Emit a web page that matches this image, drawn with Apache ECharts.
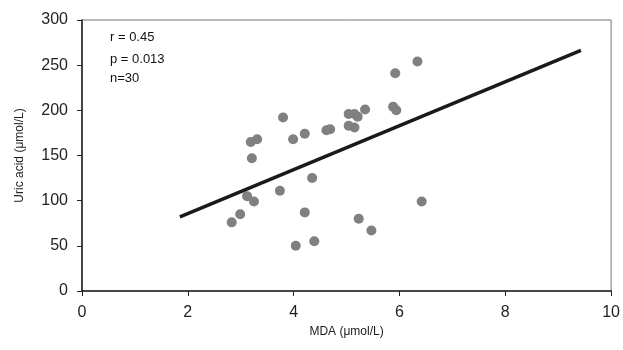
<!DOCTYPE html>
<html><head><meta charset="utf-8">
<script src="https://cdn.jsdelivr.net/npm/echarts@6/dist/echarts.min.js"></script>
<style>html,body{margin:0;padding:0;background:#fff}#c{width:623px;height:350px}</style>
</head><body><div id="c"></div>
<script>
var mdaValues = [3.80,3.19,3.31,3.99,4.21,4.62,4.69,3.21,5.04,5.15,5.21,5.35,5.04,5.15,5.88,5.94,5.92,6.34,3.12,3.25,2.99,2.83,3.74,4.35,4.21,4.04,4.39,5.23,5.47,6.42];
var uricValues = [192,165,168,168,174,178,179,147,196,196,193,201,183,181,204,200,241,254,105,99,85,76,111,125,87,50,55,80,67,99];
var fitX = [1.85, 9.43];
var fitY = [82, 266.5];
var statsLines = ['r = 0.45', 'p = 0.013', 'n=30'];

var points = mdaValues.map(function(v,i){return [v, uricValues[i]];});
var fit = fitX.map(function(v,i){return [v, fitY[i]];});
var chart = echarts.init(document.getElementById('c'));
var font = 'Liberation Sans, Arial, sans-serif';
chart.setOption({
  animation:false,
  grid:{left:82,right:8,top:20,bottom:59,show:true,borderColor:'#777',borderWidth:1},
  xAxis:{type:'value',min:0,max:10,interval:2,
    name:'MDA (μmol/L)',nameLocation:'middle',nameGap:33,
    nameTextStyle:{fontFamily:font,fontSize:12,color:'#222'},
    axisLine:{lineStyle:{color:'#222',width:1.5}},
    axisTick:{show:true,length:5,lineStyle:{color:'#222'}},
    axisLabel:{fontFamily:font,fontSize:16,color:'#222',margin:14},
    splitLine:{show:false}},
  yAxis:{type:'value',min:0,max:300,interval:50,
    name:'Uric acid (μmol/L)',nameLocation:'middle',nameGap:56,
    nameTextStyle:{fontFamily:font,fontSize:12,color:'#222'},
    axisLine:{show:true,lineStyle:{color:'#222',width:1.5}},
    axisTick:{show:true,length:5,lineStyle:{color:'#222'}},
    axisLabel:{fontFamily:font,fontSize:16,color:'#222',margin:14},
    splitLine:{show:false}},
  graphic:statsLines.map(function(t,i){return {type:'text',left:110,top:[31,53,72][i],
    style:{text:t,font:'13px '+font,fill:'#111'}};}),
  series:[
    {type:'scatter',data:points,symbolSize:10,itemStyle:{color:'#808080',opacity:1},z:2},
    {type:'line',data:fit,showSymbol:false,lineStyle:{color:'#1a1a1a',width:3.5},z:3}
  ]
});
</script></body></html>
